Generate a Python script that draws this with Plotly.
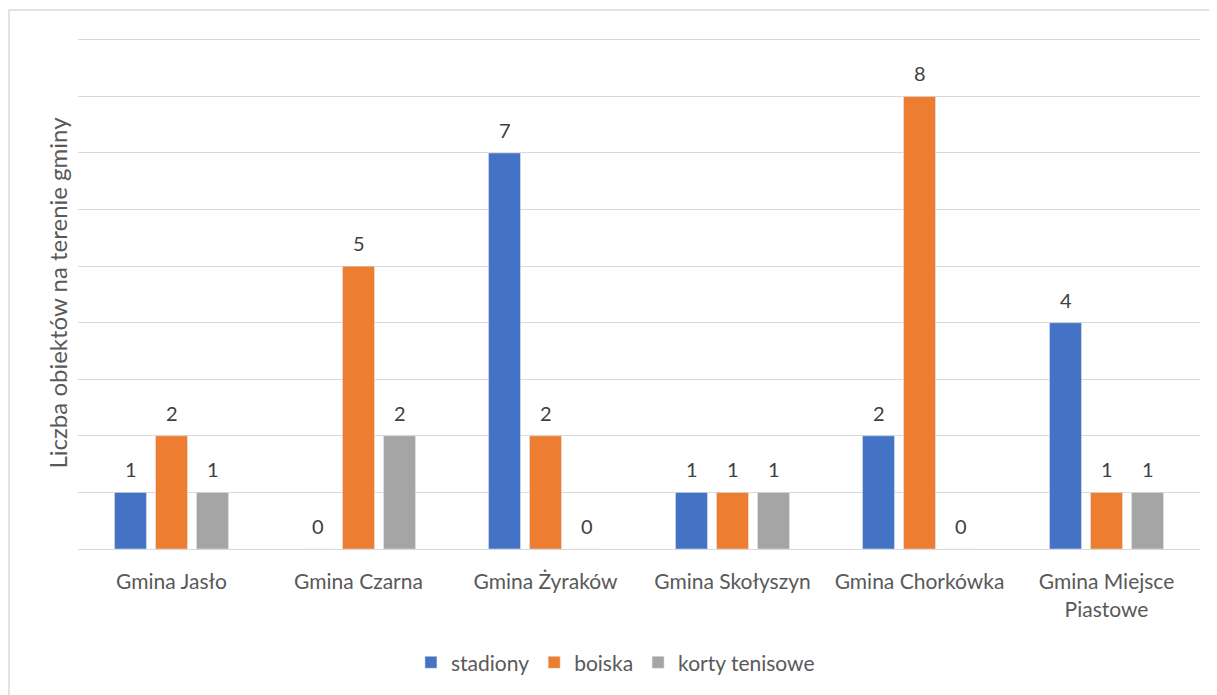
import plotly.graph_objects as go

categories = ["Gmina Jasło", "Gmina Czarna", "Gmina Żyraków", "Gmina Skołyszyn",
              "Gmina Chorkówka", "Gmina Miejsce<br>Piastowe"]
stadiony = [1, 0, 7, 1, 2, 4]
boiska = [2, 5, 2, 1, 8, 1]
korty = [1, 2, 0, 1, 0, 1]

series = [("stadiony", stadiony, "#4472C4"),
          ("boiska", boiska, "#ED7D31"),
          ("korty tenisowe", korty, "#A5A5A5")]

fig = go.Figure()
for name, vals, color in series:
    fig.add_trace(go.Bar(
        x=categories, y=vals, name=name, marker_color=color,
        offsetgroup=name,
    ))

# page has an 8px body margin; figure sized to fit the window
W, H = 1209, 687
L, T = 70, 29
pw, ph = 1122, 512
R = W - L - pw
B = H - T - ph

# value labels placed above each bar (bar slot spacing = 41 px)
annotations = []
for i, (name, vals, color) in enumerate(series):
    for cat, v in zip(categories, vals):
        annotations.append(dict(
            x=cat, y=v, xref="x", yref="y", text=str(v), showarrow=False,
            xshift=(i - 1) * 41, yshift=9, yanchor="bottom",
            font=dict(size=20, color="#404040"),
        ))

fig.update_layout(
    width=W, height=H,
    margin=dict(l=L, r=R, t=T, b=B),
    paper_bgcolor="white", plot_bgcolor="white",
    font=dict(family="Lato, Open Sans, sans-serif", size=20, color="#595959"),
    barmode="group", bargap=0.342, bargroupgap=0.22,
    legend=dict(orientation="h", x=0.479, xanchor="center", y=-0.182, yanchor="top",
                font=dict(size=21, color="#595959"),
                traceorder="normal"),
    xaxis=dict(showline=True, linecolor="#d9d9d9", linewidth=1,
               tickfont=dict(size=21, color="#595959"), ticks="",
               ticklabelstandoff=14),
    yaxis=dict(range=[0, 9.05], dtick=1, showticklabels=False, gridcolor="#d9d9d9",
               gridwidth=1, zeroline=False,
               title=dict(text="Liczba obiektów na terenie gminy",
                          font=dict(size=24, color="#595959"), standoff=2)),
    annotations=annotations,
    shapes=[dict(type="rect", xref="paper", yref="paper",
                 x0=(1 - L) / pw, x1=(W + 20 - L) / pw,
                 y0=(T + ph - (H + 20)) / ph, y1=(T + ph - 2) / ph,
                 line=dict(color="#d9d9d9", width=1.5), layer="below")],
)

fig.write_html("out.html")
